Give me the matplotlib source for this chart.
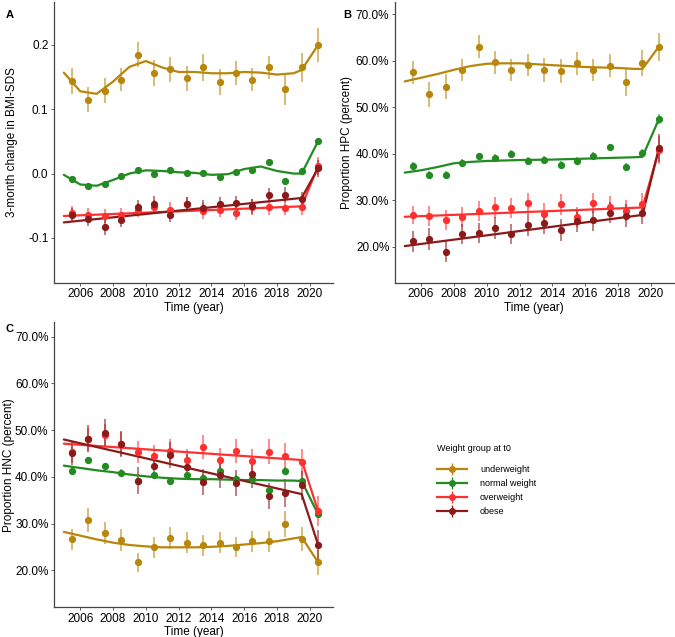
import numpy as np
import matplotlib
matplotlib.use("Agg")
import matplotlib.pyplot as plt
from matplotlib.lines import Line2D
from matplotlib.ticker import PercentFormatter

plt.rcParams['font.family'] = ['Liberation Sans', 'DejaVu Sans']

# x positions of the yearly points
years = [2005.5, 2006.5, 2007.5, 2008.5, 2009.5, 2010.5, 2011.5, 2012.5,
         2013.5, 2014.5, 2015.5, 2016.5, 2017.5, 2018.5, 2019.5, 2020.5]
# x knots of the smooth fit lines and of the straight fit lines
fit_years = [2005, 2006, 2007, 2008, 2009, 2010, 2011, 2012, 2013, 2014,
             2015, 2016, 2017, 2018, 2019, 2019.5, 2020.5]
lin_years = [2005, 2019.5, 2020.5]

groups = ["underweight", "normal weight", "overweight", "obese"]
colors = ["#B8860B", "#228B22", "#FF3030", "#8B1A1A"]
xticks = [2006, 2008, 2010, 2012, 2014, 2016, 2018, 2020]

# ---- panel A : 3-month change in BMI-SDS
a_under = [0.144, 0.115, 0.129, 0.146, 0.185, 0.156, 0.162, 0.148,
           0.165, 0.142, 0.156, 0.146, 0.165, 0.131, 0.165, 0.200]
a_normal = [-0.008, -0.020, -0.017, -0.004, 0.005, -0.001, 0.006, 0.001,
            0.001, -0.006, 0.003, 0.006, 0.018, -0.011, 0.004, 0.050]
a_over = [-0.061, -0.065, -0.066, -0.065, -0.057, -0.052, -0.056, -0.047,
          -0.058, -0.056, -0.061, -0.052, -0.052, -0.053, -0.052, 0.011]
a_obese = [-0.065, -0.071, -0.083, -0.072, -0.052, -0.047, -0.064, -0.048,
           -0.053, -0.048, -0.046, -0.051, -0.033, -0.033, -0.040, 0.008]
a_err = [
    [0.020, 0.020, 0.019, 0.018, 0.019, 0.020, 0.019, 0.019,
     0.021, 0.020, 0.019, 0.018, 0.018, 0.024, 0.023, 0.026],
    [0.004, 0.004, 0.004, 0.004, 0.004, 0.004, 0.004, 0.004,
     0.004, 0.004, 0.004, 0.004, 0.004, 0.004, 0.004, 0.005],
    [0.011, 0.011, 0.011, 0.011, 0.011, 0.011, 0.011, 0.011,
     0.012, 0.012, 0.011, 0.012, 0.012, 0.012, 0.012, 0.014],
    [0.011, 0.011, 0.012, 0.011, 0.011, 0.012, 0.011, 0.011,
     0.012, 0.011, 0.011, 0.012, 0.011, 0.012, 0.012, 0.013],
]
a_under_fit = [0.157, 0.128, 0.124, 0.143, 0.166, 0.175, 0.165, 0.158, 0.158,
               0.156, 0.156, 0.158, 0.157, 0.154, 0.156, 0.161, 0.200]
a_normal_fit = [-0.002, -0.017, -0.019, -0.010, 0.000, 0.005, 0.004, 0.002, 0.001,
                -0.002, -0.001, 0.007, 0.011, 0.004, 0.000, 0.000, 0.050]
a_over_fit = [-0.066, -0.051, 0.011]
a_obese_fit = [-0.076, -0.038, 0.008]

# ---- panel B : proportion HPC (percent)
b_under = [57.5, 52.7, 54.4, 57.9, 63.0, 59.6, 58.0, 59.0,
           58.0, 57.8, 59.4, 57.9, 58.9, 55.3, 59.5, 63.0]
b_normal = [37.3, 35.4, 35.4, 38.0, 39.4, 39.0, 39.9, 38.4,
            38.7, 37.6, 38.5, 39.5, 41.3, 37.2, 40.1, 47.4]
b_over = [26.8, 26.6, 25.7, 26.4, 27.6, 28.4, 28.3, 29.3,
          27.1, 29.1, 26.3, 29.4, 28.6, 27.7, 29.1, 40.8]
b_obese = [21.1, 21.6, 18.9, 22.7, 22.9, 24.0, 22.7, 24.6,
           25.0, 23.6, 25.4, 25.7, 27.3, 26.6, 27.3, 41.1]
b_err = [
    [2.5, 2.7, 2.6, 2.4, 2.4, 2.4, 2.4, 2.4, 2.6, 2.6, 2.5, 2.4, 2.5, 3.0, 2.8, 3.0],
    [0.8, 0.8, 0.8, 0.8, 0.8, 0.8, 0.8, 0.8, 0.8, 0.8, 0.8, 0.8, 0.8, 0.8, 0.8, 1.0],
    [2.0, 2.2, 2.2, 2.1, 2.1, 2.2, 2.2, 2.3, 2.2, 2.3, 2.1, 2.2, 2.2, 2.3, 2.5, 3.0],
    [2.2, 2.4, 2.2, 2.2, 2.2, 2.3, 2.2, 2.3, 2.3, 2.3, 2.3, 2.3, 2.3, 2.5, 2.5, 3.0],
]
b_under_fit = [55.5, 56.3, 57.1, 58.0, 58.8, 59.3, 59.4, 59.4, 59.2,
               59.0, 58.8, 58.6, 58.5, 58.4, 58.2, 58.2, 63.0]
b_normal_fit = [35.9, 36.4, 37.1, 37.9, 38.2, 38.4, 38.5, 38.6, 38.65,
                38.7, 38.8, 38.9, 39.0, 39.1, 39.2, 39.3, 47.4]
b_over_fit = [26.4, 28.4, 40.8]
b_obese_fit = [20.1, 26.8, 41.1]

# ---- panel C : proportion HNC (percent)
c_under = [26.6, 30.7, 28.0, 26.5, 21.7, 24.9, 26.9, 25.9,
           25.3, 25.9, 25.0, 26.2, 26.2, 29.9, 26.7, 21.7]
c_normal = [41.3, 43.5, 42.3, 40.9, 39.1, 40.3, 39.0, 40.3,
            39.8, 41.3, 39.6, 39.5, 37.2, 41.3, 39.2, 32.0]
c_over = [45.3, 48.0, 48.9, 47.0, 45.3, 44.4, 45.5, 43.6,
          46.4, 43.7, 45.6, 43.4, 45.4, 44.5, 43.1, 32.7]
c_obese = [45.1, 48.2, 49.4, 47.0, 39.2, 42.3, 44.6, 42.1,
           38.9, 40.4, 38.6, 40.5, 35.9, 36.6, 38.2, 25.5]
c_err = [
    [2.3, 2.6, 2.4, 2.3, 2.0, 2.2, 2.3, 2.2, 2.3, 2.3, 2.2, 2.3, 2.3, 2.8, 2.6, 2.7],
    [0.7, 0.7, 0.7, 0.7, 0.7, 0.7, 0.7, 0.7, 0.7, 0.7, 0.7, 0.7, 0.7, 0.7, 0.8, 0.9],
    [2.3, 2.5, 2.5, 2.5, 2.4, 2.4, 2.5, 2.4, 2.6, 2.5, 2.6, 2.5, 2.6, 2.8, 2.9, 3.2],
    [2.6, 2.8, 3.0, 2.8, 2.8, 2.7, 2.8, 2.7, 2.8, 2.8, 2.8, 2.8, 2.8, 3.0, 3.1, 3.2],
]
c_under_fit = [28.2, 27.4, 26.6, 25.9, 25.4, 25.1, 24.9, 24.9, 24.9,
               25.0, 25.2, 25.5, 25.8, 26.2, 26.8, 27.1, 21.7]
c_normal_fit = [42.4, 41.9, 41.4, 41.0, 40.5, 40.1, 39.8, 39.6, 39.5,
                39.5, 39.4, 39.3, 39.3, 39.2, 39.2, 39.1, 32.0]
c_over_fit = [47.1, 43.6, 32.7]
c_obese_fit = [48.0, 36.3, 25.5]


def draw_panel(ax, points, errs, fits, ylim, ylabel, ylabelpad, percent=False):
    fit_x = [fit_years, fit_years, lin_years, lin_years]
    for vals, err, fit, fx, col in zip(points, errs, fits, fit_x, colors):
        v = np.array(vals)
        e = np.array(err)
        ax.vlines(years, v - e, v + e, color=col, lw=1.2, alpha=0.65, zorder=2)
        ax.plot(fx, fit, color=col, lw=1.6, zorder=3, solid_capstyle="round",
                solid_joinstyle="round")
        ax.plot(years, v, "o", color=col, ms=4.2, zorder=4)
    ax.set_xlim(2004.4, 2021.4)
    ax.set_ylim(*ylim)
    ax.set_xticks(xticks)
    ax.set_xlabel("Time (year)", fontsize=8.5, labelpad=1)
    ax.set_ylabel(ylabel, fontsize=8.5, labelpad=ylabelpad)
    if percent:
        ax.yaxis.set_major_formatter(PercentFormatter(xmax=100, decimals=1))
    for s in ["top", "right"]:
        ax.spines[s].set_visible(False)
    for s in ["left", "bottom"]:
        ax.spines[s].set_color("#444444")
        ax.spines[s].set_linewidth(0.9)
    ax.tick_params(labelsize=8.5, length=2, width=0.6, color="#444444", pad=2)


fig = plt.figure(figsize=(6.75, 6.37), dpi=100)

ax_a = fig.add_axes([0.080, 0.556, 0.413, 0.441])
draw_panel(ax_a, [a_under, a_normal, a_over, a_obese], a_err,
           [a_under_fit, a_normal_fit, a_over_fit, a_obese_fit],
           (-0.17, 0.267), "3-month change in BMI-SDS", 7)
ax_a.set_yticks([-0.1, 0.0, 0.1, 0.2])
ax_a.set_yticklabels(["-0.1", "0.0", "0.1", "0.2"])

ax_b = fig.add_axes([0.585, 0.556, 0.413, 0.441])
draw_panel(ax_b, [b_under, b_normal, b_over, b_obese], b_err,
           [b_under_fit, b_normal_fit, b_over_fit, b_obese_fit],
           (12.2, 72.6), "Proportion HPC (percent)", 2, percent=True)
ax_b.set_yticks([20, 30, 40, 50, 60, 70])

ax_c = fig.add_axes([0.080, 0.047, 0.413, 0.447])
draw_panel(ax_c, [c_under, c_normal, c_over, c_obese], c_err,
           [c_under_fit, c_normal_fit, c_over_fit, c_obese_fit],
           (12.1, 73.1), "Proportion HNC (percent)", 0, percent=True)
ax_c.set_yticks([20, 30, 40, 50, 60, 70])

fig.text(0.008, 0.985, "A", fontsize=8, fontweight="bold", va="top")
fig.text(0.508, 0.985, "B", fontsize=8, fontweight="bold", va="top")
fig.text(0.008, 0.492, "C", fontsize=8, fontweight="bold", va="top")

handles = []
for col in colors:
    handles.append((Line2D([], [], color=col, lw=1.6, marker="o", ms=4),
                    Line2D([], [], color=col, lw=0, marker="|", ms=9, mew=1.0)))
leg = fig.legend(handles, groups, loc="upper left",
                 bbox_to_anchor=(0.635, 0.316), frameon=False,
                 title="Weight group at t0", fontsize=6.5, title_fontsize=6.5,
                 handlelength=3.4, labelspacing=0.55, handletextpad=1.4)
leg._legend_box.align = "left"
leg._legend_box.sep = 9

fig.savefig("out.png", dpi=100)
